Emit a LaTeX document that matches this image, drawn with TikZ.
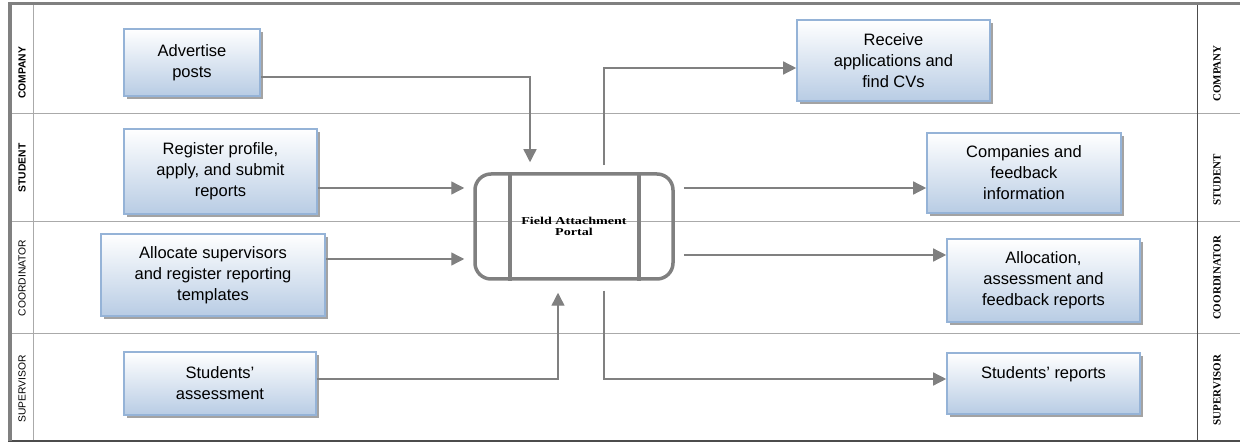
\documentclass[tikz,border=0pt]{standalone}
\usepackage{fontspec}
\setmainfont{Liberation Sans}
\newfontfamily\lanefont{Liberation Serif}
\usepackage{tikz}
\usetikzlibrary{shadows,arrows.meta}
\definecolor{boxblue}{RGB}{184,204,228}
\definecolor{boxedge}{RGB}{149,179,215}
\definecolor{flowgray}{RGB}{128,128,128}
\definecolor{lanegray}{RGB}{170,170,170}
\tikzstyle{actbox}=[rectangle, draw=boxedge, line width=1.6pt, top color=white, bottom color=boxblue, align=center, inner sep=0pt, font=\fontsize{16.5}{21}\selectfont, drop shadow={shadow xshift=3pt, shadow yshift=-3pt, fill=black!60, opacity=0.6}]
\tikzstyle{portal}=[rectangle, rounded corners=16pt, draw=flowgray, line width=3.5pt, align=center, minimum width=198pt, minimum height=105pt, font=\lanefont\bfseries\fontsize{10.6}{11.7}\selectfont]
\tikzstyle{flow}=[draw=flowgray, line width=1.4pt, -{Triangle[length=13pt,width=13pt]}]
\tikzstyle{leftlane}=[rotate=90, inner sep=0pt, font=\fontsize{10.3}{12}\selectfont]
\tikzstyle{rightlane}=[rotate=90, inner sep=0pt, font=\lanefont\bfseries\fontsize{11}{12}\selectfont]
\newcommand{\actbox}[5]{
	\node[actbox, minimum width=#3pt, minimum height=#4pt] (#1) at (#2) {#5};}

\begin{document}
\begin{tikzpicture}[x=1pt,y=-1pt]
	\useasboundingbox (0,0) rectangle (1240,443);

	% lanes and frame
	\foreach \y in {114,222,334}
		\draw[lanegray, line width=1pt] (10,\y) -- (1240,\y);
	\draw[lanegray, line width=1pt] (33,4) -- (33,441);
	\draw[black!70, line width=1pt] (1197,4) -- (1197,441);
	\draw[black!70, line width=1.2pt] (8,441) -- (1240,441);
	\draw[flowgray, line width=3pt] (8,4) -- (1240,4);
	\draw[flowgray, line width=3.5pt] (10,4) -- (10,441);

	\node[leftlane, font=\bfseries\fontsize{10.3}{12}\selectfont] (lcmp) at (22,73) {COMPANY};
	\node[leftlane, font=\bfseries\fontsize{10.3}{12}\selectfont] (lstd) at (22,168) {STUDENT};
	\node[leftlane] (lcrd) at (22,278) {COORDINATOR};
	\node[leftlane] (lsup) at (22,389) {SUPERVISOR};
	\node[rightlane] (rcmp) at (1217,73.5) {COMPANY};
	\node[rightlane] (rstd) at (1217,180) {STUDENT};
	\node[rightlane] (rcrd) at (1217,278) {COORDINATOR};
	\node[rightlane] (rsup) at (1217,390) {SUPERVISOR};

	% activities
	\actbox{adv}{192,62.5}{136}{67}{Advertise\\posts}
	\actbox{reg}{220.5,171.5}{193}{85}{Register profile,\\apply, and submit\\reports}
	\actbox{alc}{213,275}{224}{82}{Allocate supervisors\\and register reporting\\templates}
	\actbox{ass}{220,383.5}{192}{63}{Students'\\assessment}
	\actbox{rcv}{893.5,60.5}{193}{81}{Receive\\applications and\\find CVs}
	\actbox{cmp}{1024,173}{194}{80}{Companies and\\feedback\\information}
	\actbox{afb}{1043.5,280.5}{193}{83}{Allocation,\\assessment and\\feedback reports}
	\actbox{srp}{1043.5,383.5}{193}{61}{Students' reports\\\mbox{}}

	% portal
	\node[portal] (portal) at (574,226.5) {\scalebox{1.33}[1]{Field Attachment}\\\scalebox{1.33}[1]{Portal}};
	\draw[flowgray, line width=3.5pt] ([xshift=-64pt]portal.north) -- ([xshift=-64pt]portal.south);
	\draw[flowgray, line width=3.5pt] ([xshift=65pt]portal.north) -- ([xshift=65pt]portal.south);

	% flows
	\coordinate (advout) at ([yshift=-14.5pt]adv.east);
	\draw[flow, shorten >=10pt] (advout) -| ([xshift=-44pt]portal.north);
	\coordinate (regout) at ([yshift=-16.5pt]reg.east);
	\draw[flow, shorten >=9pt] (regout) -- (regout -| portal.west);
	\coordinate (alcout) at ([yshift=16pt]alc.east);
	\draw[flow, shorten >=9pt] (alcout) -- (alcout -| portal.west);
	\coordinate (assout) at ([yshift=4.5pt]ass.east);
	\draw[flow, shorten >=12pt] (assout) -| ([xshift=-16pt]portal.south);
	\coordinate (rcvin) at ([yshift=-7.5pt]rcv.west);
	\draw[flow, shorten <=7pt] ([xshift=30pt]portal.north) |- (rcvin);
	\coordinate (cmpin) at ([yshift=-15pt]cmp.west);
	\draw[flow, shorten <=9pt] (cmpin -| portal.east) -- (cmpin);
	\coordinate (afbin) at ([yshift=25.5pt]afb.west);
	\draw[flow, shorten <=9pt] (afbin -| portal.east) -- (afbin);
	\coordinate (srpin) at ([yshift=4.5pt]srp.west);
	\draw[flow, shorten <=10pt] ([xshift=30pt]portal.south) |- (srpin);
\end{tikzpicture}
\end{document}
